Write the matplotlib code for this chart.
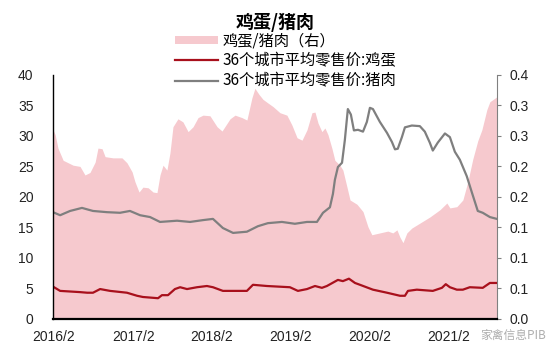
import matplotlib
matplotlib.use("Agg")
import matplotlib.pyplot as plt
import matplotlib.dates as mdates
from matplotlib.ticker import FixedLocator, FormatStrFormatter
from matplotlib.patches import Patch
from matplotlib.lines import Line2D
import pandas as pd

plt.rcParams['font.family'] = ['Liberation Sans', 'Noto Sans CJK SC', 'DejaVu Sans']

title = "鸡蛋/猪肉"
label_ratio = "鸡蛋/猪肉（右）"
label_egg = "36个城市平均零售价:鸡蛋"
label_pork = "36个城市平均零售价:猪肉"
watermark = "家禽信息PIB"

ratio_dates = ["2016-01-27", "2016-02-06", "2016-02-19", "2016-03-14", "2016-04-29", "2016-05-31",
               "2016-06-23", "2016-07-16", "2016-08-09", "2016-08-22", "2016-09-10", "2016-09-24",
               "2016-10-31", "2016-12-11", "2017-01-03", "2017-01-27", "2017-02-09", "2017-02-28",
               "2017-03-18", "2017-04-11", "2017-05-04", "2017-05-22", "2017-06-05", "2017-06-19",
               "2017-07-07", "2017-07-21", "2017-08-04", "2017-08-27", "2017-09-19", "2017-10-13",
               "2017-11-05", "2017-11-28", "2017-12-21", "2018-01-22", "2018-02-24", "2018-03-19",
               "2018-04-25", "2018-05-18", "2018-06-19", "2018-07-12", "2018-08-04", "2018-08-18",
               "2018-09-06", "2018-09-24", "2018-10-17", "2018-11-10", "2018-12-12", "2019-01-13",
               "2019-02-05", "2019-03-01", "2019-03-24", "2019-04-16", "2019-05-09", "2019-05-23",
               "2019-06-06", "2019-06-24", "2019-07-08", "2019-07-22", "2019-08-09", "2019-08-23",
               "2019-09-15", "2019-09-29", "2019-10-18", "2019-11-01", "2019-12-03", "2019-12-31",
               "2020-01-23", "2020-02-10", "2020-03-18", "2020-04-24", "2020-05-17", "2020-06-05",
               "2020-06-19", "2020-07-03", "2020-07-21", "2020-08-13", "2020-09-19", "2020-11-04",
               "2020-12-21", "2021-01-22", "2021-02-05", "2021-03-09", "2021-04-06", "2021-04-29",
               "2021-05-22", "2021-06-14", "2021-07-03", "2021-07-26", "2021-08-09", "2021-09-10"]
ratio_values = [0.310, 0.302, 0.280, 0.260, 0.252, 0.250, 0.236, 0.240, 0.257, 0.280, 0.279, 0.266,
                0.264, 0.264, 0.256, 0.241, 0.225, 0.208, 0.216, 0.215, 0.208, 0.207, 0.236, 0.252,
                0.244, 0.272, 0.315, 0.328, 0.323, 0.307, 0.315, 0.330, 0.334, 0.333, 0.315, 0.308,
                0.328, 0.334, 0.330, 0.326, 0.362, 0.378, 0.368, 0.360, 0.354, 0.348, 0.338, 0.334,
                0.318, 0.297, 0.293, 0.310, 0.338, 0.339, 0.321, 0.307, 0.313, 0.302, 0.280, 0.260,
                0.252, 0.244, 0.216, 0.195, 0.188, 0.176, 0.151, 0.138, 0.141, 0.144, 0.141, 0.146,
                0.134, 0.125, 0.141, 0.149, 0.157, 0.167, 0.179, 0.190, 0.182, 0.184, 0.195, 0.225,
                0.262, 0.292, 0.310, 0.343, 0.356, 0.364]

pork_dates = ["2016-01-27", "2016-02-29", "2016-04-15", "2016-06-09", "2016-07-30", "2016-10-03",
              "2016-12-02", "2017-01-17", "2017-03-05", "2017-04-20", "2017-06-05", "2017-08-23",
              "2017-10-22", "2017-12-21", "2018-02-05", "2018-03-23", "2018-05-09", "2018-07-12",
              "2018-09-01", "2018-10-17", "2018-12-21", "2019-02-19", "2019-04-16", "2019-06-01",
              "2019-06-29", "2019-07-31", "2019-08-14", "2019-08-23", "2019-09-06", "2019-09-25",
              "2019-10-08", "2019-10-22", "2019-11-05", "2019-11-19", "2019-12-08", "2019-12-31",
              "2020-01-18", "2020-02-01", "2020-02-15", "2020-03-18", "2020-04-20", "2020-05-13",
              "2020-05-27", "2020-06-09", "2020-06-28", "2020-07-12", "2020-08-13", "2020-09-19",
              "2020-10-12", "2020-11-04", "2020-11-18", "2020-12-11", "2021-01-13", "2021-02-05",
              "2021-02-28", "2021-03-23", "2021-04-24", "2021-05-18", "2021-06-14", "2021-07-07",
              "2021-08-09", "2021-09-10"]
pork_values = [17.5, 17.0, 17.7, 18.2, 17.7, 17.5, 17.4, 17.7, 17.0, 16.7, 15.9, 16.1,
               15.9, 16.2, 16.4, 14.9, 14.1, 14.3, 15.2, 15.7, 15.9, 15.6, 15.9, 15.9,
               17.4, 18.3, 20.5, 22.8, 24.9, 25.6, 29.3, 34.4, 33.5, 30.9, 31.0, 30.7,
               32.3, 34.6, 34.4, 32.3, 30.5, 29.0, 27.8, 27.9, 29.8, 31.4, 31.7, 31.6,
               30.7, 28.9, 27.6, 28.9, 30.4, 29.8, 27.4, 26.1, 23.4, 20.7, 17.7, 17.4,
               16.7, 16.4]

egg_dates = ["2016-01-27", "2016-02-29", "2016-05-31", "2016-07-03", "2016-07-30", "2016-09-01",
             "2016-10-17", "2017-01-03", "2017-02-19", "2017-03-18", "2017-05-27", "2017-06-14",
             "2017-07-12", "2017-08-13", "2017-09-06", "2017-10-08", "2017-11-23", "2018-01-08",
             "2018-02-05", "2018-03-23", "2018-07-12", "2018-08-09", "2018-10-13", "2019-01-27",
             "2019-03-05", "2019-04-16", "2019-05-23", "2019-06-24", "2019-07-17", "2019-09-06",
             "2019-09-29", "2019-10-27", "2019-11-24", "2019-12-17", "2020-02-15", "2020-04-20",
             "2020-06-19", "2020-07-12", "2020-07-26", "2020-09-05", "2020-11-18", "2020-12-30",
             "2021-01-17", "2021-02-05", "2021-03-09", "2021-04-06", "2021-05-08", "2021-07-07",
             "2021-08-09", "2021-09-10"]
egg_values = [5.3, 4.6, 4.4, 4.3, 4.3, 4.9, 4.6, 4.3, 3.8, 3.6, 3.4, 3.9,
              3.9, 4.9, 5.2, 4.9, 5.2, 5.4, 5.2, 4.6, 4.6, 5.6, 5.4, 5.2,
              4.6, 4.9, 5.4, 5.1, 5.4, 6.4, 6.2, 6.6, 5.9, 5.6, 4.8, 4.3,
              3.8, 3.8, 4.6, 4.8, 4.6, 5.1, 5.7, 5.2, 4.8, 4.8, 5.2, 5.1,
              5.9, 5.9]

x_start, x_end = "2016-01-27", "2021-09-10"
x_tick_dates = ["2016-02-01", "2017-02-01", "2018-02-01", "2019-02-01", "2020-02-01", "2021-02-01"]
x_tick_labels = ["2016/2", "2017/2", "2018/2", "2019/2", "2020/2", "2021/2"]
left_ticks = [0, 5, 10, 15, 20, 25, 30, 35, 40]
right_ticks = [0.0, 0.05, 0.10, 0.15, 0.20, 0.25, 0.30, 0.35, 0.40]

fill_color = "#F6C9CE"
egg_color = "#A8101C"
pork_color = "#7F7F7F"
cjk = ['Noto Sans CJK SC', 'DejaVu Sans']

fig = plt.figure(figsize=(5.52, 3.6), dpi=100)
ax = fig.add_axes([0.096, 0.114, 0.804, 0.678])
ax2 = ax.twinx()

ax2.fill_between(pd.to_datetime(ratio_dates), 0, ratio_values, color=fill_color, lw=0, zorder=1)
ax2.set_ylim(0, 0.4)

ax.set_zorder(ax2.get_zorder() + 1)
ax.patch.set_visible(False)
ax.plot(pd.to_datetime(egg_dates), egg_values, color=egg_color, lw=1.6)
ax.plot(pd.to_datetime(pork_dates), pork_values, color=pork_color, lw=1.6)
ax.set_ylim(0, 40)
ax.set_xlim(pd.Timestamp(x_start), pd.Timestamp(x_end))

ax.xaxis.set_major_locator(FixedLocator(mdates.date2num(pd.to_datetime(x_tick_dates))))
ax.set_xticklabels(x_tick_labels)
ax.set_yticks(left_ticks)
ax2.yaxis.set_major_locator(FixedLocator(right_ticks))
ax2.yaxis.set_major_formatter(FormatStrFormatter('%.1f'))

for a in (ax, ax2):
    a.spines['top'].set_visible(False)
ax.spines['left'].set_color('black')
ax.spines['left'].set_linewidth(1.0)
ax.spines['bottom'].set_color('black')
ax.spines['bottom'].set_linewidth(1.6)
ax.spines['right'].set_visible(False)
ax2.spines['left'].set_visible(False)
ax2.spines['bottom'].set_visible(False)
ax2.spines['right'].set_color('#808080')
ax2.spines['right'].set_linewidth(0.8)

ax.tick_params(axis='y', length=0, labelsize=10, pad=14, colors='#222222')
ax.tick_params(axis='x', length=0, labelsize=10, pad=8, colors='#222222')
ax2.tick_params(axis='y', length=3, width=0.8, color='#808080', labelsize=10, pad=6, labelcolor='#222222')

fig.text(0.498, 0.938, title, ha='center', va='center', fontsize=13, fontweight='bold', family=cjk)

handles = [Patch(facecolor=fill_color, edgecolor='none'),
           Line2D([0], [0], color=egg_color, lw=1.6),
           Line2D([0], [0], color=pork_color, lw=1.6)]
fig.legend(handles, [label_ratio, label_egg, label_pork], loc='upper left',
           bbox_to_anchor=(0.298, 0.94), frameon=False, handlelength=2.8,
           handleheight=0.5, handletextpad=0.3, labelspacing=0.2, borderpad=0.2,
           prop={'family': cjk, 'size': 11})

fig.text(0.99, 0.068, watermark, ha='right', va='center', fontsize=8.5, color='#a0a0a0',
         alpha=0.85, family=cjk)

fig.savefig("out.png", dpi=100, facecolor='white')
